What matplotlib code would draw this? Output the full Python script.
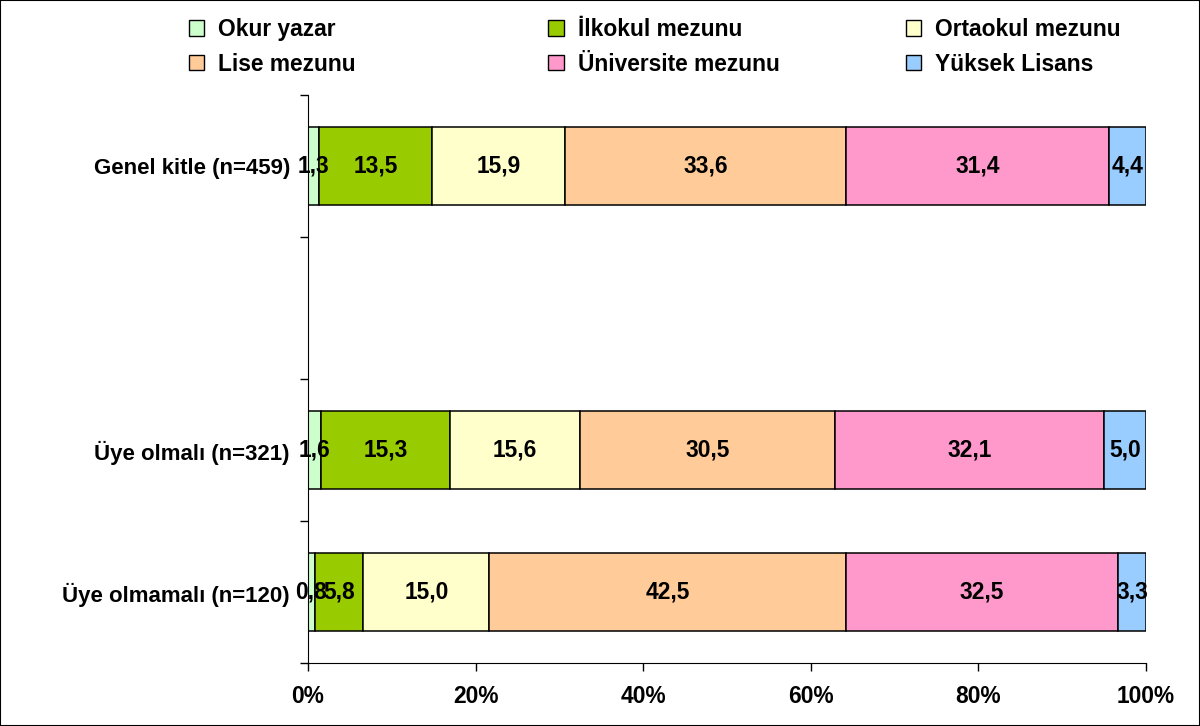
import numpy as np
import matplotlib
matplotlib.use("Agg")
import matplotlib.pyplot as plt
from matplotlib.patches import Patch, Rectangle

plt.rcParams["font.family"] = ["Liberation Sans", "DejaVu Sans"]
plt.rcParams["font.weight"] = "bold"

groups = ["Genel kitle (n=459)", "", "Üye olmalı (n=321)", "Üye olmamalı (n=120)"]
levels = ["Okur yazar", "İlkokul mezunu", "Ortaokul mezunu",
          "Lise mezunu", "Üniversite mezunu", "Yüksek Lisans"]
colors = ["#CCFFCC", "#99CC00", "#FFFFCC", "#FFCC99", "#FF99CC", "#99CCFF"]

genel = [1.3, 13.5, 15.9, 33.6, 31.4, 4.4]
uye_olmali = [1.6, 15.3, 15.6, 30.5, 32.1, 5.0]
uye_olmamali = [0.8, 5.8, 15.0, 42.5, 32.5, 3.3]

rows = [genel, None, uye_olmali, uye_olmamali]
FS = 16.4

fig = plt.figure(figsize=(12, 7.26), dpi=100)
ax = fig.add_axes([0.2567, 0.0868, 0.955 - 0.2567, 0.869 - 0.0868])

ypos = np.arange(len(groups))[::-1]
for y, vals in zip(ypos, rows):
    if vals is None:
        continue
    vals = np.array(vals)
    pct = vals / vals.sum() * 100
    left = 0
    for v, p, c in zip(vals, pct, colors):
        ax.barh(y, p, left=left, height=0.55, color=c, edgecolor="black", linewidth=1.1)
        ax.text(left + p / 2, y, f"{v:.1f}".replace(".", ","), ha="center", va="center",
                fontsize=FS, fontweight="bold", color="black")
        left += p

ax.set_xlim(0, 100)
ax.set_ylim(-0.5, len(groups) - 0.5)
ax.set_xticks(np.arange(0, 101, 20))
ax.set_xticklabels([f"{t}%" for t in range(0, 101, 20)], fontsize=FS, fontweight="bold")
ax.set_yticks(ypos)
ax.set_yticklabels(groups, fontsize=16, fontweight="bold")
ax.set_yticks(np.arange(-0.5, len(groups), 1), minor=True)
ax.tick_params(axis="y", which="major", length=0, pad=13)
ax.tick_params(axis="y", which="minor", length=6, width=1.0, direction="out")
ax.tick_params(axis="x", which="major", length=6, width=1.0, direction="out", pad=10)
ax.spines["top"].set_visible(False)
ax.spines["right"].set_visible(False)
ax.patch.set_alpha(0)

handles = [Patch(facecolor=c, edgecolor="black", linewidth=1.0) for c in colors]
col_x = [0.144, 0.4437, 0.7417]
for i, x in enumerate(col_x):
    fig.legend([handles[i], handles[i + 3]], [levels[i], levels[i + 3]],
               loc="upper left", bbox_to_anchor=(x, 0.997), frameon=False,
               handlelength=0.68, handleheight=0.68,
               handletextpad=0.6, labelspacing=0.5, borderaxespad=0.3,
               prop={"weight": "bold", "size": FS})

fig.patches.append(Rectangle((0, 0), 1, 1, transform=fig.transFigure, fill=False,
                             edgecolor="black", linewidth=1.5))

fig.savefig("out.png", dpi=100)
